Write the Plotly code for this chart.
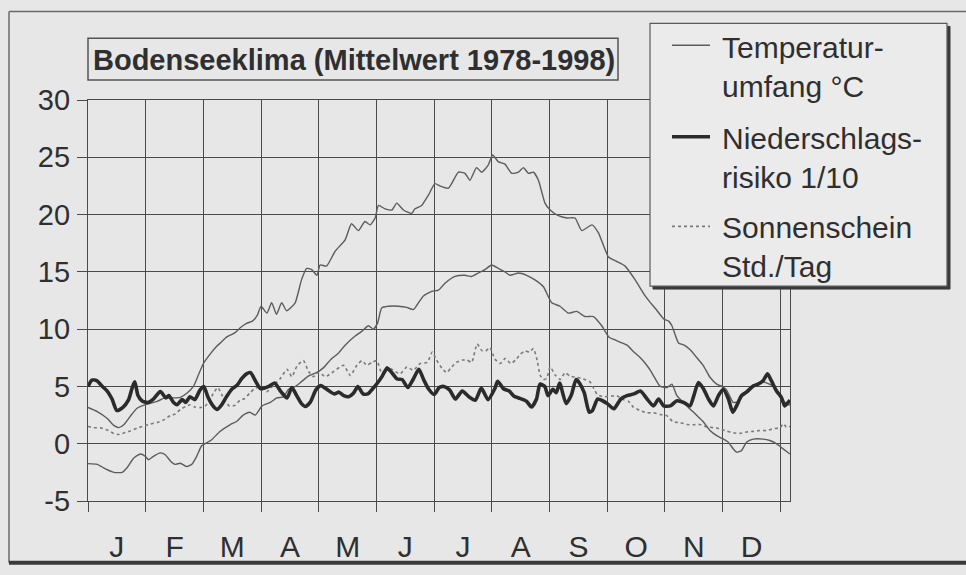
import plotly.graph_objects as go

# ---------------- data ----------------
months = ["J", "F", "M", "A", "M", "J", "J", "A", "S", "O", "N", "D"]
y_ticks = [-5, 0, 5, 10, 15, 20, 25, 30]
y_tick_text = ["-5", "0", "5", "10", "15", "20", "25", "30"]

tmax_day = [0, 4.8, 10, 13.4, 16, 18.6, 22, 25.5, 30.7, 35.9, 40, 44.5, 48, 51.4, 54.8, 57.4, 60, 63.4,
            66.9, 69.5, 72, 76.5, 79, 82.4, 85.5, 88, 90, 93, 95.5, 98, 100.7, 103.3, 107.7, 111, 113.7,
            116.3, 119, 120.7, 124, 128.5, 133.7, 137, 140.6, 144, 146.7, 149.3, 151, 154.5, 158, 160.5,
            164, 168.3, 170, 173.5, 177, 180.4, 183, 187.4, 192.6, 196, 198.6, 202, 204.7, 208, 210.4,
            213.4, 216.8, 220.3, 223.8, 226.4, 229, 231.6, 234.2, 237.6, 240.3, 244.6, 249, 253.2, 256.7,
            262, 265.4, 270.6, 275, 279.3, 284.5, 289.7, 292, 295, 299.3, 301.9, 303.6, 307, 310, 313.1,
            316.6, 320, 323.4, 326.9, 329.5, 332, 335.5, 338.5, 341, 345.9, 351, 356.3, 360.6, 364, 365]
tmax_val = [3.16, 2.8, 2.2, 1.6, 1.4, 1.65, 2.4, 3.1, 3.45, 3.7, 4.0, 4.0, 4.05, 4.4, 5.0, 6.0, 7.0, 7.8,
            8.5, 8.9, 9.3, 9.7, 10.1, 10.5, 10.7, 11.2, 12.0, 11.4, 12.3, 11.3, 12.3, 11.6, 12.3, 14.3, 15.3,
            15.2, 14.7, 15.6, 15.5, 16.8, 17.8, 19.2, 18.6, 19.4, 19.1, 19.7, 20.8, 20.5, 20.4, 21.0,
            20.4, 20.1, 20.5, 20.8, 21.7, 22.7, 22.5, 22.3, 23.7, 23.6, 23.0, 24.1, 23.7, 24.3, 25.2,
            24.6, 24.4, 23.6, 23.7, 24.1, 23.6, 23.7, 23.0, 21.0, 20.4, 19.9, 19.7, 19.7, 18.6,
            19.1, 18.4, 16.3, 15.9, 15.5, 14.3, 12.9, 12.4, 11.8, 10.9, 10.7, 10.3, 8.8, 8.6, 8.2,
            7.5, 6.8, 5.8, 5.2, 5.0, 4.7, 3.6, 3.7, 4.4, 5.1, 5.4, 5.0, 3.9, 3.4, 3.4]

tmin_day = [0, 4.8, 9.1, 13.4, 17.8, 20.3, 23.8, 27.2, 29.8, 31.5, 34, 37.6, 40.2, 42.8, 45.3, 48, 51.4,
            54, 56.5, 59, 60.9, 64.3, 68.6, 73.8, 77.2, 80.7, 84.1, 87, 90.5, 94.8, 98.2, 101.7, 104.2,
            106.8, 110.2, 114.5, 118.8, 122.2, 126.5, 130.2, 133.7, 138.9, 142.3, 145.8, 148.4, 150.6,
            152.7, 156.2, 161.4, 165.7, 169.2, 171.8, 174.4, 178.7, 182.2, 185.6, 190.8, 196, 199.5, 203,
            206.4, 209.9, 213.4, 216.8, 219.4, 223.8, 228.1, 232.4, 236.8, 241.1, 245.4, 249.8, 254.1,
            258.4, 262.8, 267.1, 270.9, 273.4, 276.9, 280.3, 283.8, 287.2, 289.8, 292.4, 295, 297.6, 301,
            303.6, 306.2, 311.4, 316.6, 320, 323.4, 326.9, 330.3, 332.9, 335.5, 337.2, 339.8, 342.4,
            345.9, 351, 354.5, 357.9, 361.4, 365]
tmin_val = [-1.74, -1.8, -2.2, -2.5, -2.5, -2.1, -1.25, -0.9, -1.1, -1.4, -1.1, -0.8, -0.96, -1.5, -1.8,
            -1.7, -2.0, -1.8, -1.1, -0.2, 0.0, 0.35, 1.07, 1.65, 1.94, 2.5, 2.75, 2.5, 3.3, 3.6, 4.0, 4.1,
            4.75, 4.9, 5.3, 5.9, 6.2, 6.6, 7.4, 7.9, 8.6, 9.4, 9.8, 10.3, 10.0, 10.55, 11.85, 12.0, 12.0,
            11.9, 11.7, 12.3, 12.9, 13.3, 13.4, 14.0, 14.6, 14.7, 14.6, 14.9, 15.2, 15.6, 15.3, 15.0, 14.7,
            14.9, 14.7, 14.3, 13.7, 12.3, 12.0, 11.4, 11.55, 11.1, 11.1, 10.3, 9.3, 9.1, 8.85, 8.6, 8.0,
            7.5, 7.0, 6.4, 5.65, 5.0, 4.9, 5.2, 4.2, 3.3, 2.46, 1.9, 1.15, 0.7, 0.4, 0.13, -0.45, -0.74,
            -0.6, 0.13, 0.4, 0.4, 0.28, 0.0, -0.45, -0.9]

rain_day = [0, 2, 4.5, 7.5, 10, 12.5, 15, 18, 21, 23, 24.3, 26, 28, 31, 34, 37.6, 40.5, 42, 44.5, 46.3, 49,
            50.8, 53, 55.5, 58.3, 60.2, 62.3, 65, 67, 69.5, 72, 75, 77.5, 80, 82.4, 84.5, 87, 89.7, 91.5,
            94, 97, 100.5, 103.5, 106, 108.5, 111, 113, 115.5, 118.5, 121, 125, 128, 130.5, 133, 135.5,
            138, 140.3, 143, 145.5, 148, 150.5, 153, 155.5, 158, 160.7, 163.3, 166.3, 169, 172, 174.5,
            177, 180, 182.6, 185, 188, 191, 194.6, 198, 201.4, 204.5, 208, 211.5, 213, 216, 219, 221.5,
            224.6, 228, 230.6, 233.2, 235, 237.5, 239.2, 241.7, 243.5, 245.2, 248.6, 251.2, 253.8, 255.5,
            258, 260.6, 262.3, 265, 267.5, 270, 273.4, 277, 280.3, 283.8, 287.2, 290.7, 294, 296.7,
            299.3, 302.8, 306.2, 309.7, 313, 315, 317.4, 320, 322.6, 325.2, 327.8, 330.3, 333, 335.2,
            337.2, 339.8, 342.4, 346, 348.4, 351, 353.3, 355.3, 358, 360.5, 362.2, 364, 365]
rain_val = [5.0, 5.55, 5.5, 5.0, 4.6, 3.9, 2.9, 3.15, 3.8, 4.9, 5.4, 4.2, 3.75, 3.6, 3.9, 4.55, 4.0, 4.2,
            3.6, 3.4, 3.85, 3.6, 4.1, 3.85, 4.7, 5.0, 4.1, 3.3, 3.0, 3.4, 4.1, 4.8, 5.1, 5.7, 6.1, 6.2,
            5.5, 4.8, 4.85, 5.0, 5.3, 4.5, 4.0, 4.9, 4.2, 3.5, 3.25, 3.6, 4.7, 5.07, 4.65, 4.35, 4.5, 4.2,
            4.1, 4.4, 5.0, 4.35, 4.35, 4.8, 5.3, 5.9, 6.6, 6.2, 5.65, 5.6, 4.9, 5.6, 6.5, 5.6, 4.8, 4.3,
            4.9, 5.0, 4.7, 3.9, 4.6, 4.1, 3.8, 4.85, 3.85, 4.8, 5.45, 4.8, 4.6, 4.15, 3.95, 3.7, 3.2, 3.9,
            5.2, 5.0, 4.2, 4.75, 4.45, 5.3, 3.5, 4.2, 5.6, 5.3, 4.45, 2.75, 2.9, 3.9, 3.75, 3.5, 3.05, 3.9,
            4.2, 4.35, 4.6, 3.9, 3.3, 3.9, 3.3, 3.3, 3.75, 3.6, 3.3, 4.2, 5.35, 4.8, 3.9, 3.3, 4.2, 4.75,
            3.9, 2.75, 3.3, 4.2, 4.5, 5.05, 5.2, 5.5, 6.1, 5.5, 4.6, 4.05, 3.3, 3.6, 3.8]

sun_day = [0, 3, 6.5, 10, 13.4, 15.5, 18.6, 22, 25.5, 29, 32.4, 36, 39.4, 42.8, 45.5, 48, 50.8, 53, 55.5,
           58.3, 61, 63.4, 65.3, 67.5, 69.5, 71, 73.5, 76.5, 79, 81.5, 84, 86.5, 89.5, 93, 96.5, 100,
           103.5, 106, 108.7, 112, 114.7, 117.3, 120, 123.4, 127.7, 132.9, 136.4, 139.8, 142.4, 145,
           147.6, 150.2, 152.8, 155.4, 158.9, 162.3, 165.8, 169.2, 172.7, 176.4, 179, 181.2, 184, 186.5,
           188.6, 191.5, 194.5, 197, 199.5, 202.3, 204.9, 206.8, 209, 211.5, 214.3, 217, 219.8, 222.3,
           224.7, 227.2, 229.5, 231.6, 233.5, 235, 236.8, 238.5, 240.3, 242.9, 245.5, 248, 250.6, 254.1,
           257.5, 261, 263, 264.8, 268, 271.4, 274.9, 278.3, 281, 283.5, 287, 290.5, 293.9, 297.4, 300.9,
           304.3, 307.8, 311.3, 314.7, 318.2, 321.7, 325.2, 328.6, 332.1, 335.5, 339, 342.4, 345.9,
           349.3, 352.8, 356.2, 359.7, 361.6, 363.1, 365]
sun_val = [1.5, 1.4, 1.38, 1.2, 0.9, 0.8, 0.93, 1.12, 1.36, 1.55, 1.71, 1.85, 2.08, 2.45, 2.6, 3.0, 3.25,
           3.4, 3.2, 3.15, 3.3, 3.8, 4.45, 4.9, 4.3, 3.8, 3.3, 3.35, 3.8, 3.95, 4.4, 4.8, 4.95, 4.55, 5.1,
           5.7, 6.5, 5.85, 6.8, 7.25, 6.3, 5.85, 6.25, 5.85, 6.3, 6.85, 5.95, 6.85, 7.25, 6.85, 7.1, 7.25,
           6.1, 6.7, 6.4, 6.1, 6.7, 6.4, 7.0, 7.1, 8.0, 7.3, 6.6, 6.2, 6.6, 7.1, 7.3, 7.3, 7.1, 8.7, 8.1,
           8.1, 8.4, 7.4, 7.0, 7.45, 7.0, 7.3, 7.8, 8.1, 8.0, 8.3, 7.3, 6.0, 5.6, 5.7, 6.7, 6.0, 5.6, 6.2,
           5.9, 5.8, 5.65, 5.4, 4.8, 4.3, 4.1, 4.15, 4.2, 3.85, 3.7, 3.2, 2.9, 2.7, 2.7, 2.55, 2.45, 1.9,
           1.85, 1.68, 1.65, 1.68, 1.47, 1.4, 1.3, 1.1, 0.95, 0.9, 1.02, 1.08, 1.15, 1.15, 1.3, 1.4,
           1.75, 1.45, 1.5]

title_text = "Bodenseeklima (Mittelwert 1978-1998)"
legend_texts = ["Temperatur-<br>umfang °C", "Niederschlags-<br>risiko 1/10", "Sonnenschein<br>Std./Tag"]

# ---------------- style ----------------
W, H = 966, 575
ML, MR, MT, MB = 88, 176, 100, 72
PW, PH = W - ML - MR, H - MT - MB
BG = "#e7e7e7"
GRID = "#4a4a4a"
TXT = "#2f2f2f"
THIN = "#5c5c5c"
THICK = "#2b2b2b"
DOT = "#7a7a7a"
FONT = "Liberation Sans, Arial, sans-serif"


def px(x):
    return (x - ML) / PW


def py(y):
    return (H - MB - y) / PH


fig = go.Figure()
common = dict(mode="lines", showlegend=False, hoverinfo="skip")
fig.add_trace(go.Scatter(x=sun_day, y=sun_val, line=dict(color=DOT, width=1.6, dash="dot",
                                                          shape="spline", smoothing=0.5), **common))
fig.add_trace(go.Scatter(x=tmax_day, y=tmax_val, line=dict(color=THIN, width=1.4,
                                                            shape="spline", smoothing=0.5), **common))
fig.add_trace(go.Scatter(x=tmin_day, y=tmin_val, line=dict(color=THIN, width=1.4,
                                                            shape="spline", smoothing=0.5), **common))
fig.add_trace(go.Scatter(x=rain_day, y=rain_val, line=dict(color=THICK, width=3.6,
                                                            shape="spline", smoothing=0.6), **common))

month_centers = [30 * i + 15 for i in range(len(months))]
month_bounds = [30 * i for i in range(len(months) + 1)]

shapes = []
# outer frame of the printed figure
shapes.append(dict(type="line", xref="paper", yref="paper", x0=px(9), x1=px(966), y0=py(11), y1=py(11),
                   line=dict(color="#6a6a6a", width=1.5), layer="above"))
shapes.append(dict(type="line", xref="paper", yref="paper", x0=px(9), x1=px(9), y0=py(11), y1=py(565),
                   line=dict(color="#6a6a6a", width=1.5), layer="above"))
shapes.append(dict(type="line", xref="paper", yref="paper", x0=px(9), x1=px(966), y0=py(565), y1=py(565),
                   line=dict(color="#3a3a3a", width=4), layer="above"))
# title box
shapes.append(dict(type="rect", xref="paper", yref="paper", x0=px(88), x1=px(618), y0=py(80), y1=py(38),
                   line=dict(color="#555555", width=1.5), fillcolor=BG, layer="above"))
# legend box with shadow
shapes.append(dict(type="rect", xref="paper", yref="paper", x0=px(653), x1=px(950), y0=py(290), y1=py(26),
                   line=dict(color="#3a3a3a", width=1), fillcolor="#3a3a3a", layer="above"))
shapes.append(dict(type="rect", xref="paper", yref="paper", x0=px(650), x1=px(947), y0=py(287), y1=py(23),
                   line=dict(color="#5a5a5a", width=1.2), fillcolor="#ebebeb", layer="above"))
# legend samples
shapes.append(dict(type="line", xref="paper", yref="paper", x0=px(672), x1=px(710), y0=py(45), y1=py(45),
                   line=dict(color=THIN, width=1.4), layer="above"))
shapes.append(dict(type="line", xref="paper", yref="paper", x0=px(672), x1=px(710), y0=py(137), y1=py(137),
                   line=dict(color=THICK, width=3.6), layer="above"))
shapes.append(dict(type="line", xref="paper", yref="paper", x0=px(672), x1=px(710), y0=py(227), y1=py(227),
                   line=dict(color=DOT, width=1.6, dash="dot"), layer="above"))

annotations = [
    dict(xref="paper", yref="paper", x=px(354), y=py(60), text="<b>" + title_text + "</b>",
         showarrow=False, xanchor="center", yanchor="middle",
         font=dict(family=FONT, size=29, color=TXT)),
]
legend_centers = [67, 158, 248]
for txt, cy in zip(legend_texts, legend_centers):
    annotations.append(dict(xref="paper", yref="paper", x=px(720), y=py(cy), text=txt, showarrow=False,
                            xanchor="left", yanchor="middle", align="left",
                            font=dict(family=FONT, size=30, color=TXT)))

fig.update_layout(
    width=W, height=H,
    margin=dict(l=ML, r=MR, t=MT, b=MB, pad=0),
    paper_bgcolor=BG, plot_bgcolor=BG,
    font=dict(family=FONT, color=TXT),
    shapes=shapes, annotations=annotations,
    xaxis=dict(range=[0, 365], tickmode="array", tickvals=month_centers, ticktext=months,
               ticks="", showgrid=False, zeroline=False, showline=True, mirror=True,
               linecolor=GRID, linewidth=1.3, tickfont=dict(size=30, color=TXT), ticklabelstandoff=19,
               minor=dict(tickmode="array", tickvals=month_bounds, showgrid=True, gridcolor=GRID,
                          gridwidth=1.3, ticks="outside", ticklen=10, tickcolor=GRID, tickwidth=1.3)),
    yaxis=dict(range=[-5, 30], tickmode="array", tickvals=y_ticks, ticktext=y_tick_text,
               ticks="outside", ticklen=10,
               tickcolor=GRID, tickwidth=1.3, showgrid=True, gridcolor=GRID, gridwidth=1.3,
               zeroline=False, showline=True, mirror=True, linecolor=GRID, linewidth=1.3,
               tickfont=dict(size=29, color=TXT), ticklabelstandoff=1),
)

fig.write_html("out.html", config={"displayModeBar": False},
               post_script="document.body.style.margin='0px';document.body.style.overflow='hidden';")
